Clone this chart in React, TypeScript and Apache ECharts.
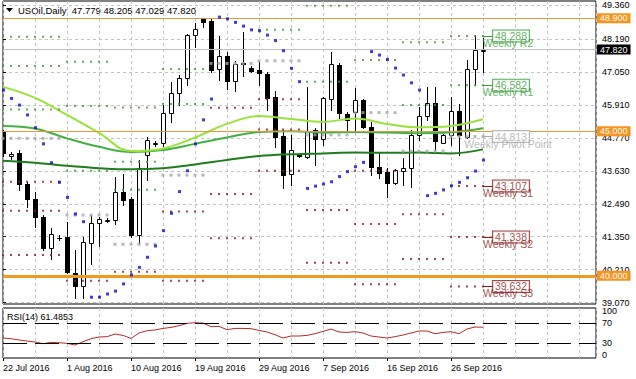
import React, { useEffect, useRef } from "react";
import * as echarts from "echarts";

const FONT = '"Liberation Sans", Arial, sans-serif';

const symbolTitle = "USOil,Daily";
const lastQuote = ["47.779", "48.205", "47.029", "47.820"];
const rsiTitle = "RSI(14)";
const rsiLastText = "61.4853";

const dates = [
  "2016-07-22", "2016-07-24", "2016-07-25", "2016-07-26", "2016-07-27", "2016-07-28", "2016-07-29", "2016-07-31",
  "2016-08-01", "2016-08-02", "2016-08-03", "2016-08-04", "2016-08-05", "2016-08-07", "2016-08-08", "2016-08-09",
  "2016-08-10", "2016-08-11", "2016-08-12", "2016-08-14", "2016-08-15", "2016-08-16", "2016-08-17", "2016-08-18",
  "2016-08-19", "2016-08-21", "2016-08-22", "2016-08-23", "2016-08-24", "2016-08-25", "2016-08-26", "2016-08-28",
  "2016-08-29", "2016-08-30", "2016-08-31", "2016-09-01", "2016-09-02", "2016-09-04", "2016-09-05", "2016-09-06",
  "2016-09-07", "2016-09-08", "2016-09-09", "2016-09-11", "2016-09-12", "2016-09-13", "2016-09-14", "2016-09-15",
  "2016-09-16", "2016-09-18", "2016-09-19", "2016-09-20", "2016-09-21", "2016-09-22", "2016-09-23", "2016-09-25",
  "2016-09-26", "2016-09-27", "2016-09-28", "2016-09-29", "2016-09-30",
];

const opens = [
  44.97, 44.14, 44.24, 43.17, 42.64, 42.02, 40.95, 41.30, 41.33, 40.11, 39.66, 41.14, 41.81, 41.90, 41.93, 42.89,
  42.65, 41.41, 44.17, 44.57, 44.58, 45.62, 46.31, 46.83, 48.32, 48.87, 48.82, 47.14, 47.60, 46.73, 47.36, 47.17,
  47.11, 46.97, 46.19, 44.83, 43.51, 44.17, 44.11, 45.04, 44.72, 46.12, 47.29, 45.59, 45.67, 46.08, 45.15, 43.77,
  43.60, 43.21, 43.63, 43.71, 44.87, 45.53, 45.96, 44.60, 44.87, 45.71, 44.81, 47.14, 47.779,
];
const highs = [
  45.05, 44.29, 44.35, 43.25, 42.91, 42.10, 41.64, 41.40, 41.87, 40.89, 41.34, 42.10, 42.03, 42.00, 43.40, 43.51,
  42.73, 44.00, 44.81, 44.65, 45.90, 46.71, 46.94, 48.35, 48.73, 48.90, 48.88, 48.29, 47.75, 47.43, 48.44, 47.25,
  47.40, 47.04, 46.40, 45.04, 44.87, 44.22, 46.52, 45.11, 46.19, 47.75, 47.36, 45.66, 46.48, 46.11, 45.32, 44.29,
  43.73, 43.69, 44.06, 45.04, 45.82, 46.52, 46.54, 44.90, 46.17, 45.94, 47.46, 48.32, 48.205,
];
const lows = [
  44.15, 44.04, 42.98, 42.39, 41.68, 40.88, 40.58, 41.25, 40.10, 39.24, 39.24, 40.41, 41.03, 41.85, 41.79, 42.45,
  41.35, 41.14, 43.31, 44.50, 44.49, 45.33, 45.90, 46.59, 47.92, 48.61, 47.05, 46.77, 46.45, 46.40, 46.91, 47.04,
  46.59, 45.73, 44.46, 43.02, 43.14, 44.10, 44.06, 43.83, 44.52, 45.73, 45.44, 45.04, 45.04, 45.11, 43.48, 43.38,
  42.73, 43.17, 43.14, 43.08, 44.69, 45.38, 44.35, 44.59, 44.52, 44.18, 44.76, 46.59, 47.029,
];
const closes = [
  44.24, 44.21, 43.17, 42.64, 42.02, 40.95, 41.43, 41.32, 40.13, 39.66, 41.18, 41.81, 41.96, 41.92, 42.89, 42.62,
  41.41, 43.71, 44.69, 44.58, 45.62, 46.31, 46.83, 48.32, 48.52, 48.78, 47.11, 47.60, 46.74, 47.32, 47.32, 47.08,
  47.00, 46.16, 44.81, 43.49, 44.35, 44.15, 45.00, 44.72, 46.13, 47.32, 45.62, 45.38, 46.08, 45.15, 43.75, 43.56,
  43.21, 43.66, 43.71, 44.87, 45.53, 45.96, 44.67, 44.87, 45.71, 44.87, 47.14, 47.80, 47.82,
];

const sar = [
  46.42, 46.13, 45.90, 45.56, 45.12, 44.56, 43.91, 43.23, 42.71, 42.14, 41.87, 39.26, 39.26, 39.37, 39.47, 39.72,
  40.03, 40.29, 40.64, 41.03, 41.56, 42.16, 42.91, 43.63, 44.56, 45.39, 46.11, 48.94, 48.88, 48.76, 48.63, 48.50,
  48.47, 48.32, 48.13, 47.78, 47.17, 46.71, 43.02, 43.10, 43.17, 43.25, 43.43, 43.60, 43.77, 43.92, 47.75, 47.63,
  47.48, 47.18, 46.94, 46.67, 46.42, 42.77, 42.85, 42.97, 43.11, 43.23, 43.39, 43.62, 44.00,
];

const rsi = [
  39.9, 38.6, 36.0, 34.0, 32.0, 28.6, 31.2, 30.6, 29.3, 26.0, 32.6, 38.6, 42.0, 42.6, 48.0, 45.2,
  39.2, 50.0, 54.6, 56.0, 59.2, 61.2, 64.6, 69.2, 70.6, 70.0, 62.6, 63.2, 56.6, 59.2, 59.2, 58.6,
  55.2, 52.0, 46.6, 40.0, 44.0, 44.0, 45.2, 48.6, 53.2, 58.0, 52.0, 51.2, 52.6, 50.0, 44.0, 42.0,
  40.0, 42.6, 46.0, 50.0, 54.0, 54.0, 48.6, 51.2, 52.6, 48.6, 58.0, 62.0, 61.5,
];

// moving averages read every 4th bar
const maBars = [0, 4, 8, 12, 16, 20, 24, 28, 32, 36, 40, 44, 48, 52, 56, 60];
const maFast = [46.53, 46.15, 45.56, 44.94, 44.31, 44.40, 44.78, 45.25, 45.52, 45.42, 45.32, 45.44, 45.25, 45.13, 45.18, 45.41];
const maMid = [45.18, 45.09, 44.75, 44.46, 44.28, 44.35, 44.56, 44.78, 44.97, 45.00, 44.95, 44.97, 44.95, 44.93, 44.96, 45.10];
const maSlow = [43.98, 43.91, 43.80, 43.72, 43.68, 43.72, 43.85, 44.00, 44.14, 44.20, 44.23, 44.26, 44.25, 44.26, 44.23, 44.37];

// weekly pivot levels, one value per weekly segment (first bar index of each)
const weekStarts = [0, 8, 14, 20, 26, 32, 38, 44, 50, 56];
const pivR3 = [48.26, 47.40, 45.82, null, null, null, null, null, null, null];
const pivR2 = [47.25, 45.87, 43.94, 47.15, null, null, 49.33, null, 48.07, 48.288];
const pivR1 = [45.75, 43.63, 42.97, 45.94, null, 48.50, 46.71, 47.46, 45.90, 46.582];
const pivP = [44.75, 42.10, 41.09, 43.48, 47.34, 47.43, 44.87, 45.64, 44.31, 44.813];
const pivS1 = [43.25, 39.83, 40.14, 42.22, 45.81, 46.10, 42.27, 43.63, 42.13, 43.107];
const pivS2 = [42.25, null, null, 39.83, 42.83, 45.06, 40.45, 41.79, 40.58, 41.338];
const pivS3 = [40.72, null, null, null, 41.30, 43.63, null, 39.71, null, 39.632];

const priceTicks = [39.07, 40.21, 41.35, 42.49, 43.63, 44.77, 45.91, 47.05, 48.19, 49.36];
const rsiTicks = [0, 30, 70, 100];
const rsiLevels = [30, 70];
const xTickLabels = ["22 Jul 2016", "1 Aug 2016", "10 Aug 2016", "19 Aug 2016", "29 Aug 2016", "7 Sep 2016", "16 Sep 2016", "26 Sep 2016"];
const LABEL_EVERY = 8;

const userLevels = [48.9, 45.0, 40.0];
const currentPrice = 47.82;

const GREEN = "#3a9a3a";
const RED = "#8b1c1c";
const GRAY = "#a8a8a8";

export default function App() {
  const ref = useRef<HTMLDivElement>(null);

  useEffect(() => {
    document.body.style.margin = "0";
    if (!ref.current) return;
    const chart = echarts.init(ref.current, undefined, { renderer: "svg" });

    const nBars = opens.length;
    const lastBar = nBars - 1;
    const X_MAX = 74.125;
    const candleData = opens.map((o, i) => [i, o, highs[i], lows[i], closes[i]]);

    const segEnd = (s: number) => (s + 1 < weekStarts.length ? weekStarts[s + 1] - 1 : lastBar);
    const levelDots = (arr: (number | null)[]) => {
      const out: number[][] = [];
      arr.forEach((v, s) => {
        if (v == null) return;
        for (let i = weekStarts[s]; i <= segEnd(s); i++) out.push([i, v]);
      });
      return out;
    };

    const last = weekStarts.length - 1;
    const anchor = lastBar + 3.5;
    const curLevels = [
      { name: "Weekly R2", v: pivR2[last] as number, c: GREEN },
      { name: "Weekly R1", v: pivR1[last] as number, c: GREEN },
      { name: "Weekly Pivot Point", v: pivP[last] as number, c: GRAY },
      { name: "Weekly S1", v: pivS1[last] as number, c: RED },
      { name: "Weekly S2", v: pivS2[last] as number, c: RED },
      { name: "Weekly S3", v: pivS3[last] as number, c: RED },
    ];

    const gridLine = { show: true, lineStyle: { color: "#c4c4c4", type: [3, 3] as any, width: 1 } };
    const xBase = { type: "value" as const, min: 0, max: X_MAX, axisLine: { show: false } };
    const axisFont = { fontSize: 9, color: "#000", fontFamily: FONT };

    const dotSeries = (name: string, arr: (number | null)[], color: string, size: number) => ({
      name,
      type: "scatter",
      xAxisIndex: 0,
      yAxisIndex: 0,
      symbol: "rect",
      symbolSize: size,
      itemStyle: { color },
      data: levelDots(arr),
      z: 5,
      silent: true,
    });

    const hLineLabel = (text: string, bg: string) => ({
      show: true,
      position: "end",
      formatter: text,
      backgroundColor: bg,
      color: "#fff",
      padding: [1, 3, 0, 3],
      fontSize: 9,
      fontFamily: FONT,
      distance: 1,
    });

    const option: any = {
      animation: false,
      backgroundColor: "#fff",
      textStyle: { fontFamily: FONT },
      grid: [
        { left: 3, right: 40, top: 1, height: 303, show: true, borderColor: "#000", borderWidth: 1 },
        { left: 3, right: 40, top: 308, height: 50, show: true, borderColor: "#000", borderWidth: 1 },
      ],
      xAxis: [
        { ...xBase, gridIndex: 0, interval: 4, axisTick: { show: false }, axisLabel: { show: false }, splitLine: gridLine },
        { ...xBase, gridIndex: 1, interval: 4, axisTick: { show: false }, axisLabel: { show: false }, splitLine: gridLine },
        {
          ...xBase,
          gridIndex: 1,
          interval: LABEL_EVERY,
          position: "bottom",
          splitLine: { show: false },
          axisTick: { show: true, length: 3, lineStyle: { color: "#000" }, customValues: xTickLabels.map((_, k) => k * LABEL_EVERY) },
          axisLabel: {
            ...axisFont,
            show: true,
            align: "left",
            margin: 5,
            customValues: xTickLabels.map((_, k) => k * LABEL_EVERY),
            formatter: (v: number) => {
              const k = v / LABEL_EVERY;
              return Number.isInteger(k) && k < xTickLabels.length ? xTickLabels[k] : "";
            },
          },
        },
      ],
      yAxis: [
        {
          gridIndex: 0,
          type: "value",
          position: "right",
          min: 39.025,
          max: 49.498,
          axisLine: { show: false },
          axisTick: { show: true, length: 3, lineStyle: { color: "#000" }, customValues: priceTicks },
          axisLabel: { ...axisFont, customValues: priceTicks, formatter: (v: number) => v.toFixed(3), margin: 6 },
          splitLine: gridLine,
        },
        {
          gridIndex: 1,
          type: "value",
          position: "right",
          min: 0,
          max: 100,
          axisLine: { show: false },
          axisTick: { show: false, customValues: rsiTicks },
          splitLine: { show: false },
          axisLabel: {
            ...axisFont,
            customValues: rsiTicks,
            showMinLabel: true,
            showMaxLabel: true,
            hideOverlap: false,
            margin: 6,
            formatter: (v: number) => (v === 100 ? "{t|100}" : v === 0 ? "{b|0}" : "{n|" + v + "}"),
            rich: {
              t: { padding: [6, 0, 0, 0], fontSize: 9, fontFamily: FONT, color: "#000" },
              b: { padding: [0, 0, 6, 0], fontSize: 9, fontFamily: FONT, color: "#000" },
              n: { fontSize: 9, fontFamily: FONT, color: "#000" },
            },
          },
        },
      ],
      graphic: [
        { type: "polygon", shape: { points: [[6, 8], [13, 8], [9.5, 12]] }, style: { fill: "#000" } },
        {
          type: "text",
          x: 18,
          y: 10.5,
          style: { text: symbolTitle + "  " + lastQuote.join(" "), font: "9.5px " + FONT, fill: "#000", verticalAlign: "middle" },
        },
        {
          type: "text",
          x: 7,
          y: 316.5,
          style: { text: rsiTitle + " " + rsiLastText, font: "9px " + FONT, fill: "#000", verticalAlign: "middle" },
        },
      ],
      series: [
        {
          name: "candles",
          type: "custom",
          xAxisIndex: 0,
          yAxisIndex: 0,
          clip: true,
          z: 2,
          encode: { x: 0, y: [1, 2, 3, 4] },
          data: candleData,
          renderItem: (params: any, api: any) => {
            const i = api.value(0);
            const o = api.value(1);
            const h = api.value(2);
            const l = api.value(3);
            const c = api.value(4);
            const pO = api.coord([i, o]);
            const pC = api.coord([i, c]);
            const pH = api.coord([i, h]);
            const pL = api.coord([i, l]);
            const cx = Math.round(pO[0]);
            const top = Math.round(Math.min(pO[1], pC[1]));
            const bot = Math.round(Math.max(pO[1], pC[1]));
            const children: any[] = [
              {
                type: "line",
                shape: { x1: cx + 0.5, y1: Math.round(pH[1]), x2: cx + 0.5, y2: Math.round(pL[1]) + 1 },
                style: { stroke: "#000", lineWidth: 1 },
              },
            ];
            if (bot - top < 1) {
              children.push({ type: "line", shape: { x1: cx - 2, y1: top + 0.5, x2: cx + 3, y2: top + 0.5 }, style: { stroke: "#000", lineWidth: 1 } });
            } else if (c >= o) {
              children.push({ type: "rect", shape: { x: cx - 1.5, y: top + 0.5, width: 4, height: bot - top }, style: { fill: "#fff", stroke: "#000", lineWidth: 1 } });
            } else {
              children.push({ type: "rect", shape: { x: cx - 2, y: top, width: 5, height: bot - top + 1 }, style: { fill: "#000" } });
            }
            return { type: "group", children };
          },
        },
        {
          name: "levels",
          type: "line",
          xAxisIndex: 0,
          yAxisIndex: 0,
          data: [],
          z: 3,
          silent: true,
          markLine: {
            silent: true,
            symbol: ["none", "none"],
            animation: false,
            data: [
              { yAxis: currentPrice, lineStyle: { color: "#c0c0c0", width: 1, type: "solid" }, label: hLineLabel(currentPrice.toFixed(3), "#000") },
              { yAxis: userLevels[0], lineStyle: { color: "#e39a3b", width: 1, type: "solid" }, label: hLineLabel(userLevels[0].toFixed(3), "#f7941d") },
              { yAxis: userLevels[1], lineStyle: { color: "#e39a3b", width: 1, type: "solid" }, label: hLineLabel(userLevels[1].toFixed(3), "#f7941d") },
              { yAxis: userLevels[2], lineStyle: { color: "#f39a1e", width: 3, type: "solid" }, label: hLineLabel(userLevels[2].toFixed(3), "#f7941d") },
            ],
          },
        },
        {
          name: "maSlow",
          type: "line",
          xAxisIndex: 0,
          yAxisIndex: 0,
          smooth: 0.4,
          showSymbol: false,
          lineStyle: { color: "#1f7d1f", width: 2 },
          data: maBars.map((b, k) => [b, maSlow[k]]),
          z: 4,
          silent: true,
        },
        {
          name: "maMid",
          type: "line",
          xAxisIndex: 0,
          yAxisIndex: 0,
          smooth: 0.4,
          showSymbol: false,
          lineStyle: { color: "#45b045", width: 2 },
          data: maBars.map((b, k) => [b, maMid[k]]),
          z: 4,
          silent: true,
        },
        {
          name: "maFast",
          type: "line",
          xAxisIndex: 0,
          yAxisIndex: 0,
          smooth: 0.4,
          showSymbol: false,
          lineStyle: { color: "#9be23c", width: 2 },
          data: maBars.map((b, k) => [b, maFast[k]]),
          z: 4,
          silent: true,
        },
        dotSeries("R3", pivR3, GREEN, 2),
        dotSeries("R2", pivR2, GREEN, 2),
        dotSeries("R1", pivR1, GREEN, 2),
        dotSeries("P", pivP, GRAY, 3),
        dotSeries("S1", pivS1, RED, 2),
        dotSeries("S2", pivS2, RED, 2),
        dotSeries("S3", pivS3, RED, 2),
        {
          name: "sar",
          type: "scatter",
          xAxisIndex: 0,
          yAxisIndex: 0,
          symbol: "rect",
          symbolSize: 3,
          symbolOffset: [0.5, 0],
          itemStyle: { color: "#0f0fc4" },
          data: sar.map((v, i) => [i, v]),
          z: 6,
          silent: true,
        },
        {
          name: "pivotBoxes",
          type: "scatter",
          xAxisIndex: 0,
          yAxisIndex: 0,
          symbol: "rect",
          symbolSize: 1,
          itemStyle: { color: "rgba(0,0,0,0)" },
          z: 7,
          silent: true,
          markLine: {
            silent: true,
            symbol: ["none", "none"],
            label: { show: false },
            data: curLevels.map((p) => [
              { coord: [lastBar, p.v], lineStyle: { color: p.c, width: 1, type: "solid" } },
              { coord: [lastBar + 1.4, p.v] },
            ]),
          },
          data: curLevels.map((p) => ({
            value: [anchor, p.v],
            label: {
              show: true,
              position: "inside",
              formatter: p.v.toFixed(3),
              color: p.c,
              borderColor: p.c,
              borderWidth: 1,
              backgroundColor: "#fff",
              padding: [0, 2, 0, 2],
              fontSize: 10.5,
              fontFamily: FONT,
            },
          })),
        },
        {
          name: "pivotNames",
          type: "scatter",
          xAxisIndex: 0,
          yAxisIndex: 0,
          symbol: "rect",
          symbolSize: 1,
          itemStyle: { color: "rgba(0,0,0,0)" },
          z: 8,
          silent: true,
          data: curLevels.map((p) => ({
            value: [anchor, p.v],
            label: {
              show: true,
              position: "inside",
              offset: [-3, 7],
              formatter: p.name,
              color: p.c,
              fontSize: 10.5,
              fontFamily: FONT,
            },
          })),
        },
        {
          name: "rsi",
          type: "line",
          xAxisIndex: 1,
          yAxisIndex: 1,
          showSymbol: false,
          lineStyle: { color: "#b52a2a", width: 1 },
          data: rsi.map((v, i) => [i, v]),
          z: 3,
          silent: true,
          markLine: {
            silent: true,
            symbol: ["none", "none"],
            label: { show: false },
            lineStyle: { color: "#000", width: 1, type: [24, 8] },
            data: rsiLevels.map((v) => ({ yAxis: v })),
          },
        },
      ],
    };

    chart.setOption(option);
    return () => chart.dispose();
  }, []);

  return <div ref={ref} style={{ width: 636, height: 379 }} />;
}
